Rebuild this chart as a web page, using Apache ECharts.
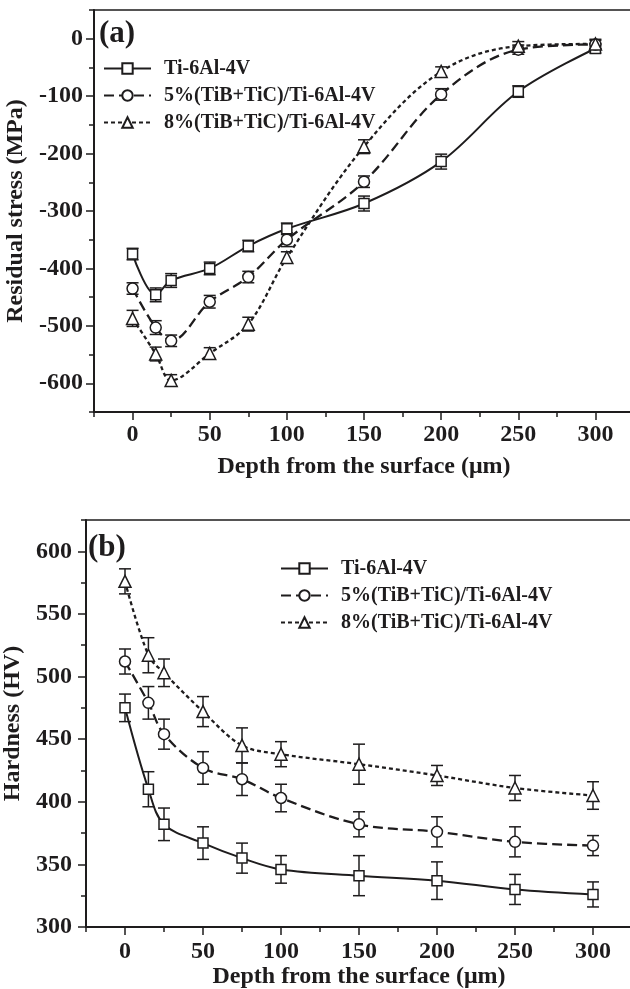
<!DOCTYPE html>
<html>
<head>
<meta charset="utf-8">
<script src="https://cdn.jsdelivr.net/npm/echarts@6/dist/echarts.min.js"></script>
<style>
  html, body { margin: 0; padding: 0; background: #fff; }
  #chart { width: 630px; height: 989px; }
</style>
</head>
<body>
<div id="chart"></div>
<script>
// Depth of each measurement below the surface (µm)
const depths = [0, 15, 25, 50, 75, 100, 150, 200, 250, 300];

const seriesNames = ['Ti-6Al-4V', '5%(TiB+TiC)/Ti-6Al-4V', '8%(TiB+TiC)/Ti-6Al-4V'];

// (a) residual stress, MPa, with error half-widths
const stressTi  = [-375, -446, -421, -400, -361, -331, -287, -214, -92, -17];
const stress5   = [-435, -503, -526, -458, -415, -350, -249, -97, -19, -10];
const stress8   = [-487, -549, -595, -548, -497, -381, -188, -57, -13, -9];
const stressErrTi = [10, 12, 12, 11, 10, 10, 13, 13, 10, 8];
const stressErr5  = [10, 12, 10, 11, 10, 12, 10, 10, 8, 7];
const stressErr8  = [14, 12, 10, 10, 12, 10, 12, 8, 8, 8];

// (b) microhardness, HV, with error half-widths
const hardTi = [475, 410, 382, 367, 355, 346, 341, 337, 330, 326];
const hard5  = [512, 479, 454, 427, 418, 403, 382, 376, 368, 365];
const hard8  = [576, 517, 503, 472, 445, 438, 430, 421, 411, 405];
const hardErrTi = [11, 14, 13, 13, 12, 11, 16, 15, 12, 10];
const hardErr5  = [10, 13, 12, 13, 13, 11, 10, 12, 12, 8];
const hardErr8  = [10, 14, 11, 12, 14, 10, 16, 8, 10, 11];

// Labelled tick positions
const depthTicks  = [0, 50, 100, 150, 200, 250, 300];
const stressTicks = [-600, -500, -400, -300, -200, -100, 0];
const hardTicks   = [300, 350, 400, 450, 500, 550, 600];

const INK = '#1e1c1d';
const FONT = '"Liberation Serif", "Times New Roman", serif';

const symbols = ['rect', 'circle', 'triangle'];
const symbolSizes = [10, 11, 12];
const dashes = ['solid', [10, 5], [4, 3]];

// Main axis: line, short ticks every minor step, labels only at the major values
function mainAxis(gridIndex, min, max, step, major, name, nameGap, labelMargin, position) {
  return {
    type: 'value', gridIndex, position, min, max, interval: step,
    name, nameLocation: 'middle', nameGap,
    nameTextStyle: { color: INK, fontFamily: FONT, fontWeight: 'bold', fontSize: 24 },
    axisLine: { show: true, onZero: false, lineStyle: { color: INK, width: 2 } },
    axisTick: { show: true, inside: false, length: 5, lineStyle: { color: INK, width: 1.5 } },
    axisLabel: {
      show: true, margin: labelMargin, color: INK, fontFamily: FONT, fontWeight: 'bold', fontSize: 24,
      formatter: v => (major.indexOf(v) >= 0 ? String(v) : '')
    },
    splitLine: { show: false }
  };
}

// Companion axis that only draws the longer ticks at the major values
function majorTickAxis(gridIndex, min, max, step, major, position) {
  return {
    type: 'value', gridIndex, position, min, max, interval: step,
    axisLine: { show: false, onZero: false },
    axisTick: { show: true, inside: false, length: 8, customValues: major, lineStyle: { color: INK, width: 1.5 } },
    axisLabel: { show: false },
    splitLine: { show: false }
  };
}

function drawErrorBar(params, api) {
  const x = api.value(0);
  const lo = api.coord([x, api.value(1)]);
  const hi = api.coord([x, api.value(2)]);
  const half = 6;
  const style = { stroke: INK, lineWidth: 1.5 };
  return {
    type: 'group',
    children: [
      { type: 'line', shape: { x1: lo[0], y1: lo[1], x2: hi[0], y2: hi[1] }, style },
      { type: 'line', shape: { x1: lo[0] - half, y1: lo[1], x2: lo[0] + half, y2: lo[1] }, style },
      { type: 'line', shape: { x1: hi[0] - half, y1: hi[1], x2: hi[0] + half, y2: hi[1] }, style }
    ]
  };
}

function panelSeries(axisIndex, values, errors) {
  const out = [];
  values.forEach((vals, k) => {
    out.push({
      type: 'custom', name: 'err-' + axisIndex + '-' + k,
      xAxisIndex: axisIndex, yAxisIndex: axisIndex,
      data: depths.map((d, i) => [d, vals[i] - errors[k][i], vals[i] + errors[k][i]]),
      encode: { x: 0, y: [1, 2] },
      renderItem: drawErrorBar, silent: true, z: 2
    });
    out.push({
      type: 'line', name: seriesNames[k],
      xAxisIndex: axisIndex, yAxisIndex: axisIndex,
      data: depths.map((d, i) => [d, vals[i]]),
      smooth: 0.35,
      symbol: symbols[k], symbolSize: symbolSizes[k], showAllSymbol: true,
      lineStyle: { color: INK, width: k === 0 ? 2 : 2.3, type: dashes[k] },
      itemStyle: { color: '#fff', borderColor: INK, borderWidth: 1.5 },
      emphasis: { disabled: true }, z: 3
    });
  });
  return out;
}

function panelLegend(left, top) {
  return {
    orient: 'vertical', left, top, padding: 0,
    itemWidth: 47, itemHeight: 13, itemGap: 6,
    selectedMode: false,
    data: seriesNames,
    textStyle: { color: INK, fontFamily: FONT, fontWeight: 'bold', fontSize: 20, lineHeight: 21, padding: [0, 0, 0, 8] }
  };
}

const chart = echarts.init(document.getElementById('chart'), null, { renderer: 'canvas' });

chart.setOption({
  animation: false,
  backgroundColor: '#fff',
  title: [
    { text: '(a)', left: 99, top: 18, padding: 0,
      textStyle: { color: INK, fontFamily: FONT, fontWeight: 'bold', fontSize: 31 } },
    { text: '(b)', left: 88, top: 532, padding: 0,
      textStyle: { color: INK, fontFamily: FONT, fontWeight: 'bold', fontSize: 31 } }
  ],
  legend: [panelLegend(103, 58), panelLegend(280, 558)],
  grid: [
    { left: 94, top: 10, width: 540, height: 402, outerBoundsMode: 'none', containLabel: false,
      show: true, borderColor: INK, borderWidth: 1.5, backgroundColor: 'transparent' },
    { left: 86, top: 520, width: 546, height: 407, outerBoundsMode: 'none', containLabel: false,
      show: true, borderColor: INK, borderWidth: 1.5, backgroundColor: 'transparent' }
  ],
  xAxis: [
    mainAxis(0, -25, 325, 25, depthTicks, 'Depth from the surface (\u03bcm)', 43, 11, 'bottom'),
    majorTickAxis(0, -25, 325, 25, depthTicks, 'bottom'),
    mainAxis(1, -25, 325, 25, depthTicks, 'Depth from the surface (\u03bcm)', 36, 13, 'bottom'),
    majorTickAxis(1, -25, 325, 25, depthTicks, 'bottom')
  ],
  yAxis: [
    mainAxis(0, -650, 50, 50, stressTicks, 'Residual stress (MPa)', 60, 11, 'left'),
    majorTickAxis(0, -650, 50, 50, stressTicks, 'left'),
    mainAxis(1, 300, 625, 25, hardTicks, 'Hardness (HV)', 52, 14, 'left'),
    majorTickAxis(1, 300, 625, 25, hardTicks, 'left')
  ],
  series: [
    ...panelSeries(0, [stressTi, stress5, stress8], [stressErrTi, stressErr5, stressErr8]),
    ...panelSeries(2, [hardTi, hard5, hard8], [hardErrTi, hardErr5, hardErr8])
  ]
});
</script>
</body>
</html>
